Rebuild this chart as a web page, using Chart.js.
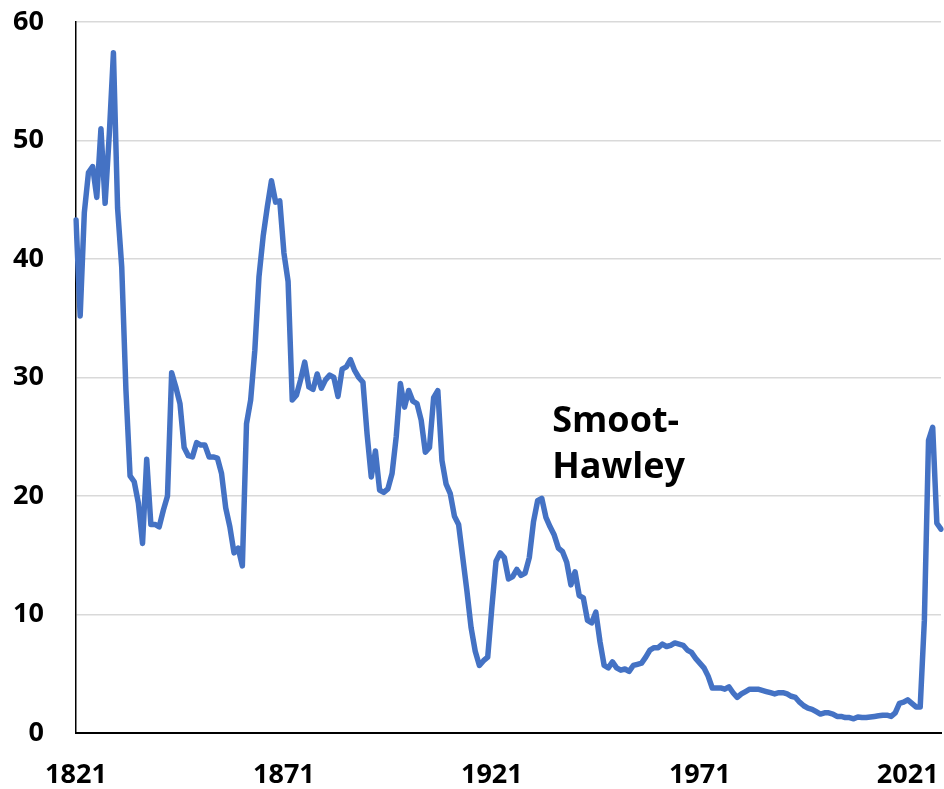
<!DOCTYPE html>
<html>
<head>
<meta charset="utf-8">
<script src="https://cdn.jsdelivr.net/npm/chart.js@4/dist/chart.umd.min.js"></script>
<style>
  html, body { margin: 0; padding: 0; background: #fff; }
  canvas { display: block; }
</style>
</head>
<body>
<canvas id="tariffChart" width="944" height="789"></canvas>
<script>
const startYear = 1821;

// average tariff rate, one value per year 1821-2024
const annualTariff = [
    43.3, 35.2, 43.9, 47.3, 47.8, 45.2, 51.0, 44.7, 50.5, 57.4,
    44.3, 39.3, 29.0, 21.7, 21.2, 19.4, 16.0, 23.1, 17.6, 17.6,
    17.4, 18.8, 20.0, 30.4, 29.2, 27.8, 24.1, 23.4, 23.3, 24.5,
    24.3, 24.3, 23.3, 23.3, 23.2, 21.9, 19.0, 17.4, 15.2, 15.6,
    14.1, 26.1, 28.1, 32.3, 38.5, 41.9, 44.4, 46.6, 44.8, 44.9,
    40.5, 38.1, 28.1, 28.5, 29.8, 31.3, 29.2, 29.0, 30.3, 29.1,
    29.8, 30.2, 30.0, 28.4, 30.7, 30.9, 31.5, 30.6, 30.0, 29.6,
    25.2, 21.6, 23.8, 20.5, 20.3, 20.6, 21.9, 25.0, 29.5, 27.5,
    28.9, 28.0, 27.8, 26.4, 23.7, 24.1, 28.3, 28.9, 23.0, 21.0,
    20.2, 18.3, 17.6, 14.8, 12.0, 8.9, 6.9, 5.7, 6.1, 6.4,
    10.6, 14.5, 15.2, 14.8, 13.0, 13.2, 13.8, 13.3, 13.5, 14.8,
    17.8, 19.6, 19.8, 18.2, 17.4, 16.7, 15.6, 15.3, 14.4, 12.5,
    13.6, 11.6, 11.4, 9.5, 9.3, 10.2, 7.7, 5.7, 5.5, 6.0,
    5.5, 5.3, 5.4, 5.2, 5.7, 5.8, 5.9, 6.4, 7.0, 7.2,
    7.2, 7.5, 7.3, 7.4, 7.6, 7.5, 7.4, 7.0, 6.8, 6.3,
    5.9, 5.5, 4.8, 3.8, 3.8, 3.8, 3.7, 3.9, 3.4, 3.0,
    3.3, 3.5, 3.7, 3.7, 3.7, 3.6, 3.5, 3.4, 3.3, 3.4,
    3.4, 3.3, 3.1, 3.0, 2.6, 2.3, 2.1, 2.0, 1.8, 1.6,
    1.7, 1.7, 1.6, 1.4, 1.4, 1.3, 1.3, 1.2, 1.35, 1.3,
    1.3, 1.35, 1.4, 1.45, 1.5, 1.5, 1.4, 1.7, 2.5, 2.6,
    2.8, 2.5, 2.2, 2.2
];

// 2025 readings after the last full year
const labels2025 = ['Feb 2025', 'Apr 2025', 'Jun 2025', 'Aug 2025', 'Oct 2025'];
const tariff2025 = [9.5, 24.7, 25.8, 17.7, 17.2];

const tickYears = ['1821', '1871', '1921', '1971', '2021'];
const yTicks = { min: 0, max: 60, step: 10 };

const annotationLines = ['Smoot-', 'Hawley'];
const annotationIndex = 114.5;
const annotationValue = 25.4;

function buildLabels() {
    const labels = [];
    for (let i = 0; i < annualTariff.length; i++) {
        labels.push(String(startYear + i));
    }
    return labels.concat(labels2025);
}

const tickFont = { family: "'Open Sans', 'Liberation Sans', sans-serif", size: 27, weight: 'bold' };

const annotationPlugin = {
    id: 'smootHawley',
    afterDraw(chart) {
        const ctx = chart.ctx;
        const x = chart.scales.x.getPixelForValue(annotationIndex);
        const y = chart.scales.y.getPixelForValue(annotationValue);
        ctx.save();
        ctx.fillStyle = '#000';
        ctx.font = "bold 36px 'Open Sans', 'Liberation Sans', sans-serif";
        ctx.textAlign = 'left';
        ctx.textBaseline = 'alphabetic';
        annotationLines.forEach((line, i) => {
            ctx.fillText(line, x, y + i * 46);
        });
        ctx.restore();
    }
};

const ctx = document.getElementById('tariffChart').getContext('2d');
new Chart(ctx, {
    type: 'line',
    data: {
        labels: buildLabels(),
        datasets: [{
            label: 'Average tariff rate',
            data: annualTariff.concat(tariff2025),
            borderColor: '#4472C4',
            borderWidth: 5.5,
            pointRadius: 0,
            tension: 0,
            borderJoinStyle: 'round',
            borderCapStyle: 'round',
            fill: false
        }]
    },
    options: {
        responsive: false,
        animation: false,
        layout: { padding: { top: 22, right: 3, left: 0, bottom: 0 } },
        plugins: {
            legend: { display: false },
            tooltip: { enabled: false }
        },
        scales: {
            x: {
                offset: false,
                grid: { display: false, drawTicks: false },
                border: { display: true, color: '#000', width: 2 },
                ticks: {
                    autoSkip: false,
                    maxRotation: 0,
                    minRotation: 0,
                    padding: 26,
                    color: '#000',
                    font: tickFont,
                    callback: function (value) {
                        const label = this.getLabelForValue(value);
                        return tickYears.includes(label) ? label : '';
                    }
                },
                afterFit(scale) {
                    scale.height = 56;
                    scale.paddingLeft = 0;
                    scale.paddingRight = 0;
                }
            },
            y: {
                min: yTicks.min,
                max: yTicks.max,
                grid: { color: '#d9d9d9', lineWidth: 1.5, drawTicks: false },
                border: { display: true, color: '#000', width: 1.5 },
                ticks: {
                    stepSize: yTicks.step,
                    padding: 32,
                    color: '#000',
                    font: tickFont
                },
                afterFit(scale) {
                    scale.width = 76;
                    scale.paddingTop = 0;
                    scale.paddingBottom = 0;
                }
            }
        }
    },
    plugins: [annotationPlugin]
});
</script>
</body>
</html>
